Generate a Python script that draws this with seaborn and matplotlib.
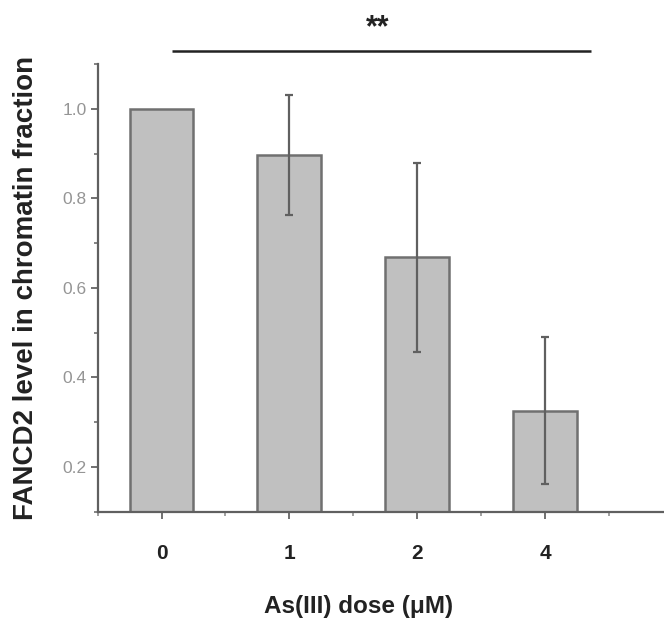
import matplotlib
matplotlib.use("Agg")
import matplotlib.pyplot as plt
from matplotlib.ticker import MultipleLocator
import seaborn as sns
import pandas as pd

# Chromatin-bound FANCD2 relative to untreated cells
doses = ["0", "1", "2", "4"]
levels = [1.0, 0.897, 0.668, 0.326]
sd = [0.0, 0.134, 0.211, 0.165]
significance = "**"

sns.set_theme(style="ticks")
plt.rcParams["font.family"] = ["Liberation Sans", "DejaVu Sans"]

df = pd.DataFrame({"dose": doses, "level": levels})

fig = plt.figure(figsize=(6.64, 6.21), dpi=100)
ax = fig.add_axes([0.147, 0.176, 0.853, 0.721])

sns.barplot(data=df, x="dose", y="level", order=doses, color="#c0c0c0",
            saturation=1, width=0.5, edgecolor="#707070", linewidth=1.8,
            errorbar=None, ax=ax)

# error bars only where a spread was measured (control is the reference = 1)
err_x = [i for i, s in enumerate(sd) if s > 0]
ax.errorbar(err_x, [levels[i] for i in err_x], yerr=[sd[i] for i in err_x],
            fmt="none", ecolor="#606060", elinewidth=1.6, capsize=3,
            capthick=1.6, zorder=3)

ax.set_xlim(-0.5, 3.93)
ax.set_ylim(0.1, 1.1)
ax.set_yticks([0.2, 0.4, 0.6, 0.8, 1.0])
ax.set_yticklabels(["0.2", "0.4", "0.6", "0.8", "1.0"])
ax.yaxis.set_minor_locator(MultipleLocator(0.1))
ax.set_xticks(range(len(doses)))
ax.set_xticks([-0.5, 0.5, 1.5, 2.5, 3.5], minor=True)

for side in ("top", "right"):
    ax.spines[side].set_visible(False)
for side in ("left", "bottom"):
    ax.spines[side].set_color("#606060")
    ax.spines[side].set_linewidth(1.6)

ax.tick_params(axis="y", which="major", length=5, width=1.4, color="#707070",
               labelsize=12.5, labelcolor="#959595", pad=3)
ax.tick_params(axis="y", which="minor", length=3, width=1.2, color="#707070")
ax.tick_params(axis="x", which="major", length=5, width=1.4, color="#707070",
               labelsize=15, pad=18)
ax.tick_params(axis="x", which="minor", length=3, width=1.2, color="#909090")
for lbl in ax.get_xticklabels():
    lbl.set_fontweight("bold")
    lbl.set_color("#222222")

ax.set_xlabel("As(III) dose (\u03bcM)", fontsize=17.5, fontweight="bold",
              color="#222222")
ax.xaxis.set_label_coords(0.4605, -0.185)
ax.set_ylabel("FANCD2 level in chromatin fraction", fontsize=20,
              fontweight="bold", color="#222222")
ax.yaxis.set_label_coords(-0.103, 0.5)

# Significance bar between control and the highest dose
ax.plot([0.08, 3.36], [1.128, 1.128], color="#222222", lw=1.8,
        clip_on=False, solid_capstyle="butt")
ax.text(1.69, 1.18, significance, ha="center", va="center", fontsize=22,
        fontweight="bold", color="#222222", clip_on=False)

fig.savefig("out.png", dpi=100)
